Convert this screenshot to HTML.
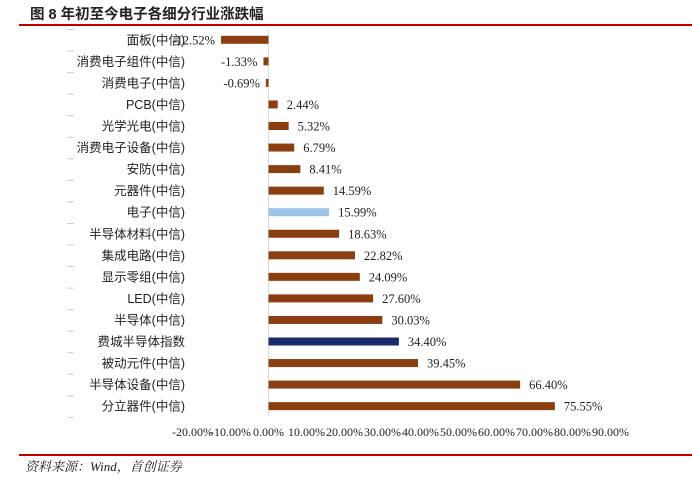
<!DOCTYPE html>
<html><head><meta charset="utf-8"><style>
html,body{margin:0;padding:0;background:#fff;}
svg{display:block;}
</style></head><body>
<svg width="692" height="480" xmlns="http://www.w3.org/2000/svg">
<text x="30" y="19" font-family="Liberation Sans, Noto Sans CJK SC, sans-serif" font-size="14.5" font-weight="bold" fill="#222">图 8 年初至今电子各细分行业涨跌幅</text>
<rect x="19" y="24" width="673" height="2" fill="#c00000"/>
<line x1="268.5" y1="30" x2="268.5" y2="416" stroke="#d9d9d9" stroke-width="1"/>
<g font-family="Liberation Sans, Noto Sans CJK SC, sans-serif" font-size="12.5" fill="#222" text-anchor="end" id="labels"></g>
<g id="bars"></g>
<g font-family="Liberation Serif, serif" font-size="12" fill="#222" text-anchor="middle" id="ticks"></g>
<rect x="19" y="454" width="673" height="2" fill="#c00000"/>
<text x="25" y="471" font-family="Liberation Serif, Noto Serif CJK SC, serif" font-size="13" font-style="italic" fill="#222">资料来源：Wind，首创证券</text>
</svg>
<script>
var d=[["面板(中信)",-12.52],["消费电子组件(中信)",-1.33],["消费电子(中信)",-0.69],["PCB(中信)",2.44],["光学光电(中信)",5.32],["消费电子设备(中信)",6.79],["安防(中信)",8.41],["元器件(中信)",14.59],["电子(中信)",15.99],["半导体材料(中信)",18.63],["集成电路(中信)",22.82],["显示零组(中信)",24.09],["LED(中信)",27.60],["半导体(中信)",30.03],["费城半导体指数",34.40],["被动元件(中信)",39.45],["半导体设备(中信)",66.40],["分立器件(中信)",75.55]];
var ns="http://www.w3.org/2000/svg",L=document.getElementById("labels"),B=document.getElementById("bars"),T=document.getElementById("ticks");
function el(t,a,p,txt){var e=document.createElementNS(ns,t);for(var k in a)e.setAttribute(k,a[k]);if(txt!=null)e.textContent=txt;p.appendChild(e);return e;}
var z=268.5,k=3.79;
d.forEach(function(r,i){var y=39.8+i*21.55;
el("text",{x:185,y:y+4.5},L,r[0]);
el("rect",{x:67,y:y-10.8,width:7,height:1,fill:"#ccc"},B);
var c=i==8?"#9dc3e6":(i==14?"#1a2a6c":"#8b3e0f");
var v=r[1],x0=v<0?z+v*k:z,w=Math.abs(v)*k;
el("rect",{x:x0,y:y-4,width:w,height:8,fill:c},B);
var s=v.toFixed(2)+"%";
if(v<0)el("text",{x:x0-6,y:y+4.5,"font-family":"Liberation Serif, serif","font-size":"12.5","text-anchor":"end",fill:"#222"},B,s);
else el("text",{x:x0+w+9,y:y+4.5,"font-family":"Liberation Serif, serif","font-size":"12.5",fill:"#222"},B,s);
});
el("rect",{x:67,y:39.8+18*21.55-10.8,width:7,height:1,fill:"#ccc"},B);
for(var j=-2;j<=9;j++){el("text",{x:z+j*38,y:436},T,(j*10).toFixed(2)+"%");}
</script>
</body></html>
